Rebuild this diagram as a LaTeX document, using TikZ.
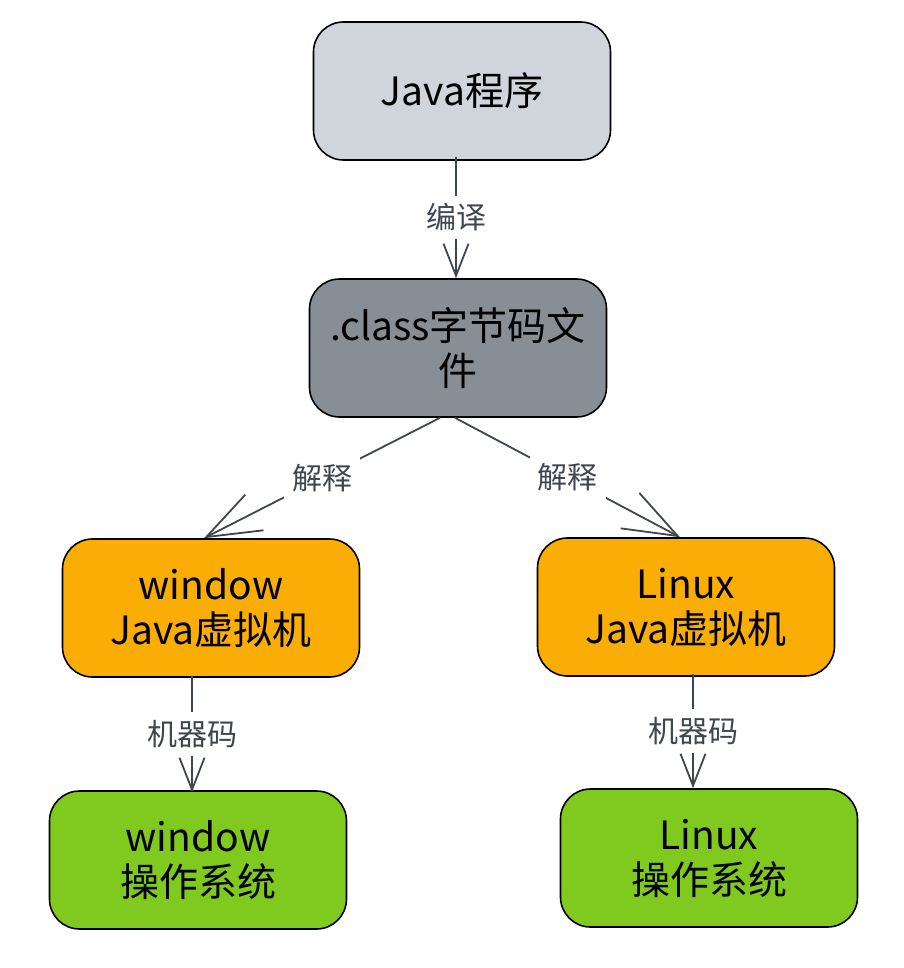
\documentclass[tikz,border=0pt]{standalone}
\usepackage{fontspec}
\setmainfont{Noto Sans CJK SC}
\usetikzlibrary{arrows.meta}

\begin{document}
\begin{tikzpicture}[x=1pt,y=-1pt]

    % Colors for the boxes
    \definecolor{srcgray}{RGB}{208,213,220}
    \definecolor{bytegray}{RGB}{135,142,150}
    \definecolor{jvmorange}{RGB}{250,174,5}
    \definecolor{osgreen}{RGB}{128,201,30}
    \definecolor{linkgray}{RGB}{64,70,77}

    \tikzset{
        box/.style={draw, line width=1.6pt, rounded corners=30pt,
            minimum width=297pt, minimum height=138pt, align=center,
            font=\fontsize{39}{45}\selectfont},
        link/.style={draw=linkgray, line width=1.8pt},
        lbl/.style={fill=white, text=linkgray, inner sep=8pt,
            font=\fontsize{30}{34}\selectfont},
        smalltip/.style={-{Straight Barb[length=32pt,width=25pt,line width=1.8pt]}},
        bigtip/.style={-{Straight Barb[length=54pt,width=40pt,line width=1.8pt]}}
    }

    \useasboundingbox (0,0) rectangle (903,968);

    % Java source
    \node[box, fill=srcgray] (java) at (462,91) {Java程序};

    % Bytecode file
    \node[box, fill=bytegray] (class) at (458,348) {.class字节码文\\件};

    % Virtual machines
    \node[box, fill=jvmorange] (winjvm) at (211,608) {window\\Java虚拟机};
    \node[box, fill=jvmorange] (linjvm) at (686,607) {Linux\\Java虚拟机};

    % Operating systems
    \node[box, fill=osgreen] (winos) at (198,860) {window\\操作系统};
    \node[box, fill=osgreen] (linos) at (709,858) {Linux\\操作系统};

    % Connectors
    \draw[link, smalltip] ([xshift=-6pt,yshift=4pt]java.south) -- ([xshift=-2pt]class.north)
        node[lbl, midway] {编译};
    \draw[link, bigtip] ([xshift=-18pt]class.south) -- ([xshift=-7pt]winjvm.north)
        node[lbl, midway] {解释};
    \draw[link, bigtip] ([xshift=-3pt]class.south) -- ([xshift=-6pt]linjvm.north)
        node[lbl, midway] {解释};
    \draw[link, smalltip] ([xshift=-19pt,yshift=2pt]winjvm.south) -- ([xshift=-6pt,yshift=-2pt]winos.north)
        node[lbl, midway] {机器码};
    \draw[link, smalltip] ([xshift=7pt,yshift=3pt]linjvm.south) -- ([xshift=-16pt]linos.north)
        node[lbl, midway] {机器码};

\end{tikzpicture}
\end{document}
